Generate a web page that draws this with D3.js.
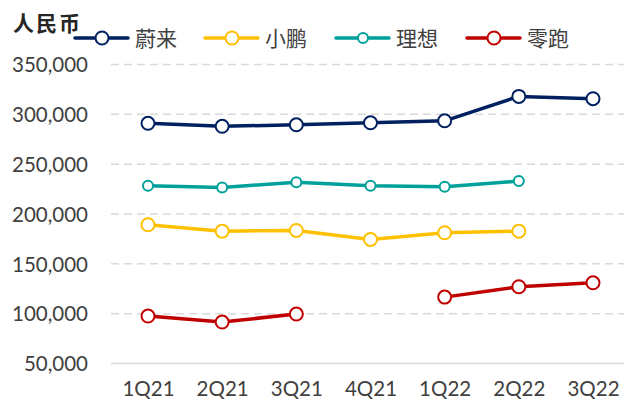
<!DOCTYPE html>
<html><head><meta charset="utf-8">
<script src="https://cdn.jsdelivr.net/npm/d3@7"></script>
<style>body{margin:0;background:#fff}svg{display:block}</style>
</head><body>
<svg id="c" width="624" height="403"></svg>
<script>
const categories = ["1Q21","2Q21","3Q21","4Q21","1Q22","2Q22","3Q22"];
const seriesNames = ["蔚来","小鹏","理想","零跑"];
const nio = [291000, 288000, 289500, 291500, 293500, 318000, 315700];
const xpeng = [189200, 182800, 183500, 174500, 181200, 182800, null];
const li = [228300, 226600, 231900, 228300, 227300, 233000, null];
const leap = [97600, 91600, 99600, null, 116600, 127000, 131000];
const yTicks = [50000,100000,150000,200000,250000,300000,350000];
const unitLabel = "人民币";

const colors = ["#002060","#FFC000","#00A19A","#C00000"];
const radii = [6.5, 6.5, 5, 6.5];
const allSeries = [nio, xpeng, li, leap];

const svg = d3.select("#c");
const x = d3.scalePoint().domain(categories).range([148, 593]);
const y = d3.scaleLinear().domain([50000, 350000]).range([363.5, 64.5]);

// grid
svg.append("g").selectAll("line").data(yTicks).join("line")
  .attr("x1", 111).attr("x2", 624)
  .attr("y1", d => y(d)).attr("y2", d => y(d))
  .attr("stroke", "#d9d9d9").attr("stroke-width", 1.5)
  .attr("stroke-dasharray", d => d === 50000 ? null : "8,5");

// y axis labels
const yAxis = d3.axisLeft(y).tickValues(yTicks).tickFormat(d3.format(",")).tickSize(0).tickPadding(0);
const ya = svg.append("g").attr("transform", "translate(88,0)").call(yAxis);
ya.select(".domain").remove();
ya.selectAll("text").attr("font-family", "Lato, 'Liberation Sans', sans-serif")
  .attr("font-size", 20.5).attr("fill", "#404040").attr("dy", "0.35em");

// x axis labels
const xAxis = d3.axisBottom(x).tickSize(0).tickPadding(0);
const xa = svg.append("g").attr("transform", "translate(0,380)").call(xAxis);
xa.select(".domain").remove();
xa.selectAll("text").attr("font-family", "Lato, 'Liberation Sans', sans-serif")
  .attr("font-size", 20.5).attr("fill", "#404040").attr("dy", "0.8em");

// lines
const line = d3.line().defined(d => d.v != null).x(d => x(d.c)).y(d => y(d.v));
allSeries.forEach((s, i) => {
  const pts = s.map((v, j) => ({c: categories[j], v}));
  svg.append("path").datum(pts).attr("d", line).attr("fill", "none")
    .attr("stroke", colors[i]).attr("stroke-width", 3.5).attr("stroke-linejoin", "round");
  svg.append("g").selectAll("circle").data(pts.filter(d => d.v != null)).join("circle")
    .attr("cx", d => x(d.c)).attr("cy", d => y(d.v)).attr("r", radii[i])
    .attr("fill", "#fff").attr("stroke", colors[i]).attr("stroke-width", 2);
});

// title
svg.append("text").attr("x", 13).attr("y", 31).text(unitLabel)
  .attr("font-family", "'Noto Sans CJK SC', sans-serif").attr("font-weight", "bold")
  .attr("font-size", 21).attr("letter-spacing", 2).attr("fill", "#262626");

// legend
const legX = [75, 205, 336, 467];
seriesNames.forEach((n, i) => {
  const g = svg.append("g").attr("transform", `translate(${legX[i]},38)`);
  g.append("line").attr("x1", 0).attr("x2", 53).attr("stroke", colors[i])
    .attr("stroke-width", 3.5).attr("stroke-linecap", "round");
  g.append("circle").attr("cx", 27).attr("r", radii[i]).attr("fill", "#fff")
    .attr("stroke", colors[i]).attr("stroke-width", 2);
  g.append("text").attr("x", 60).attr("y", 8).text(n)
    .attr("font-family", "'Noto Sans CJK SC', sans-serif").attr("font-size", 21)
    .attr("fill", "#404040");
});
</script>
</body></html>
